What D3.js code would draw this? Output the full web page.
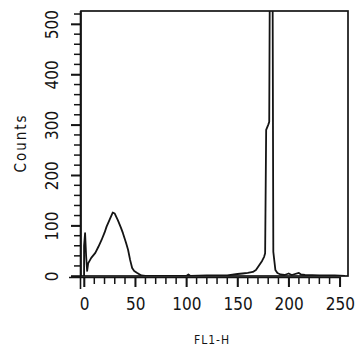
<!DOCTYPE html>
<html>
<head>
<meta charset="utf-8">
<script src="https://cdn.jsdelivr.net/npm/d3@7"></script>
<style>
  html, body { margin: 0; padding: 0; background: #fff; }
  svg { display: block; }
</style>
</head>
<body>
<svg id="chart" width="361" height="351"></svg>
<script>
// Histogram: FL1-H channel vs. counts
const channels = [0, 0, 1, 2, 3, 4, 7, 11, 14, 17, 20, 22, 25, 28, 30, 33, 36, 38, 41, 43, 45, 47, 49, 52, 56, 60,
  80, 100, 102, 104, 120, 140, 150, 155, 160, 165, 168, 170, 172, 174, 176, 177, 178, 180, 181, 182, 184, 185, 186, 187,
  189, 192, 196, 200, 203, 210, 212, 216, 230, 245, 255];
const counts = [0, 60, 85, 40, 10, 25, 36, 46, 58, 71, 86, 98, 112, 126, 124, 111, 96, 85, 66, 52, 32, 16, 10, 6, 1, 0,
  0, 0, 3, 0, 1, 1, 4, 5, 6, 8, 12, 18, 24, 30, 38, 45, 290, 300, 306, 800, 800, 48, 30, 12,
  6, 3, 2, 5, 2, 6, 3, 2, 1, 1, 0];

const xMajor = [0, 50, 100, 150, 200, 250];
const xTicks = d3.range(0, 251, 10);
const yMajor = [0, 100, 200, 300, 400, 500];
const yTicks = d3.range(0, 521, 20);
const xTitle = "FL1-H";
const yTitle = "Counts";

const svg = d3.select("#chart");
const pLeft = 81, pRight = 348, pTop = 11, pBottom = 276;

const x = d3.scaleLinear().domain([-3, 258]).range([pLeft, pRight]);
const y = d3.scaleLinear().domain([0, 526]).range([pBottom, pTop]);

const ink = "#141414";
const font = "'DejaVu Sans Condensed', 'DejaVu Sans', sans-serif";

svg.append("defs").append("clipPath").attr("id", "plotclip")
  .append("rect").attr("x", pLeft).attr("y", pTop).attr("width", pRight - pLeft).attr("height", pBottom - pTop);

// frame
svg.append("rect")
  .attr("x", pLeft).attr("y", pTop).attr("width", pRight - pLeft).attr("height", pBottom - pTop)
  .attr("fill", "none").attr("stroke", ink).attr("stroke-width", 1.7);

// histogram line
const pts = channels.map((c, i) => [c, counts[i]]);
svg.append("path")
  .datum(pts)
  .attr("clip-path", "url(#plotclip)")
  .attr("fill", "none")
  .attr("stroke", ink)
  .attr("stroke-width", 1.8)
  .attr("stroke-linejoin", "round")
  .attr("d", d3.line().x(d => x(d[0])).y(d => y(d[1])));

// x axis
const xAxisY = pBottom + 1;
const gx = svg.append("g").attr("transform", `translate(0,${xAxisY})`)
  .call(d3.axisBottom(x).tickValues(xMajor).tickSize(10).tickSizeOuter(0).tickFormat(d3.format("d")));
gx.select(".domain").attr("stroke", ink).attr("stroke-width", 1.6)
  .attr("d", `M${pLeft - 12},0.5H${x(250) + 1}`);
gx.selectAll(".tick line").attr("stroke", ink).attr("stroke-width", 1.5);
gx.selectAll(".tick text")
  .attr("y", 21).attr("fill", ink)
  .attr("font-family", font).attr("font-size", 17);
// minor/major tick comb
svg.append("g").attr("class", "xcomb")
  .selectAll("line").data(xTicks).join("line")
  .attr("x1", d => x(d)).attr("x2", d => x(d))
  .attr("y1", xAxisY).attr("y2", d => xAxisY + (xMajor.includes(d) ? 10 : 7))
  .attr("stroke", ink).attr("stroke-width", 1.5);

// y axis
const gy = svg.append("g").attr("transform", `translate(${pLeft},0)`)
  .call(d3.axisLeft(y).tickValues(yMajor).tickSize(10).tickSizeOuter(0).tickFormat(d3.format("d")));
gy.select(".domain").attr("stroke", ink).attr("stroke-width", 1.6)
  .attr("d", `M-0.5,${pTop}V${pBottom + 13}`);
gy.selectAll(".tick line").attr("stroke", ink).attr("stroke-width", 1.5);
gy.selectAll(".tick text")
  .attr("x", null).attr("dy", null)
  .attr("transform", "translate(-29,0) rotate(-90)")
  .attr("text-anchor", "middle")
  .attr("dominant-baseline", "central")
  .attr("fill", ink)
  .attr("font-family", font).attr("font-size", 17);
svg.append("g").attr("class", "ycomb")
  .selectAll("line").data(yTicks).join("line")
  .attr("x1", pLeft).attr("x2", d => pLeft - (yMajor.includes(d) ? 10 : 7))
  .attr("y1", d => y(d)).attr("y2", d => y(d))
  .attr("stroke", ink).attr("stroke-width", 1.5);

// titles
svg.append("text")
  .attr("transform", "translate(21,143) rotate(-90)")
  .attr("text-anchor", "middle").attr("dominant-baseline", "central")
  .attr("font-family", font).attr("font-size", 15).attr("letter-spacing", 2)
  .attr("fill", ink).text(yTitle);

svg.append("text")
  .attr("x", 212).attr("y", 340)
  .attr("text-anchor", "middle").attr("dominant-baseline", "central")
  .attr("font-family", font).attr("font-size", 12).attr("letter-spacing", 1)
  .attr("fill", ink).text(xTitle);
</script>
</body>
</html>
